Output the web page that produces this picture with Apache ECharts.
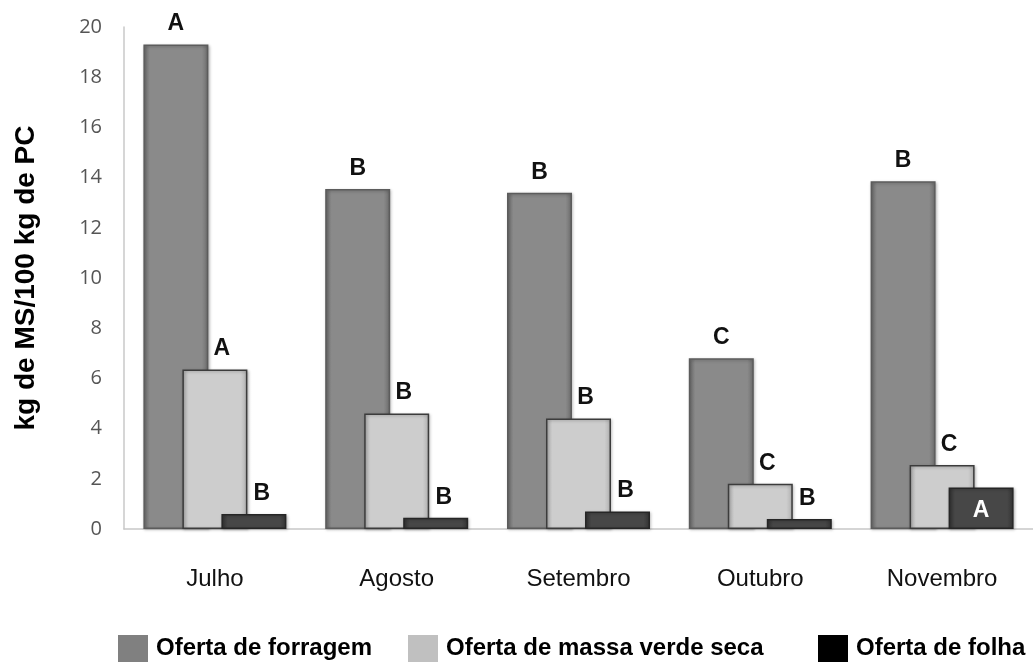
<!DOCTYPE html>
<html>
<head>
<meta charset="utf-8">
<script src="https://cdn.jsdelivr.net/npm/echarts@6/dist/echarts.min.js"></script>
<style>
  html, body { margin: 0; padding: 0; background: #ffffff; }
  #chart { width: 1033px; height: 662px; }
</style>
</head>
<body>
<div id="chart"></div>
<script>
// Months on the category axis
const months = ['Julho', 'Agosto', 'Setembro', 'Outubro', 'Novembro'];

// Offer values, kg de MS/100 kg de PC
const ofertaForragem = [19.3, 13.55, 13.4, 6.8, 13.85];
const ofertaMassaVerdeSeca = [6.35, 4.6, 4.4, 1.8, 2.55];
const ofertaFolha = [0.6, 0.45, 0.7, 0.4, 1.65];

// Letters of the mean comparison test, one per bar
const letrasForragem = ['A', 'B', 'B', 'C', 'B'];
const letrasMassa = ['A', 'B', 'B', 'C', 'C'];
const letrasFolha = ['B', 'B', 'B', 'B', 'A'];

// Y axis range
const yMin = 0, yMax = 20, yStep = 2;

const seriesNames = ['Oferta de forragem', 'Oferta de massa verde seca', 'Oferta de folha'];
const legendColors = ['#808080', '#c0c0c0', '#000000'];

const chart = echarts.init(document.getElementById('chart'), null, { renderer: 'canvas' });

// Horizontal shading that gives each bar a bevelled look
function bevel(edge, mid) {
  return new echarts.graphic.LinearGradient(0, 0, 1, 0, [
    { offset: 0, color: edge },
    { offset: 0.1, color: mid },
    { offset: 0.9, color: mid },
    { offset: 1, color: edge }
  ]);
}

const labelFont = { fontFamily: 'Arial, "Liberation Sans", sans-serif', fontWeight: 'bold', fontSize: 23, color: '#111' };

function barSeries(name, values, letters, style, labelOpts) {
  return {
    name: name,
    type: 'bar',
    data: values.map((v, i) => ({ value: v, letter: letters[i] })),
    barWidth: 65,
    barGap: '-40%',
    itemStyle: {
      color: bevel(style.edge, style.mid),
      borderColor: style.border,
      borderWidth: 1.5,
      shadowColor: 'rgba(0,0,0,0.25)',
      shadowBlur: 3,
      shadowOffsetX: 1,
      shadowOffsetY: 1
    },
    label: Object.assign({
      show: true,
      position: 'top',
      distance: 9,
      formatter: p => p.data.letter
    }, labelFont, labelOpts || {}),
    emphasis: { disabled: true }
  };
}

// One legend block per series so each item sits at its own place
const legendLefts = [113, 403, 813];
const legends = seriesNames.map((n, i) => ({
  left: legendLefts[i],
  top: 630,
  itemWidth: 30,
  itemHeight: 27,
  icon: 'rect',
  selectedMode: false,
  textStyle: { fontFamily: 'Arial, "Liberation Sans", sans-serif', fontWeight: 'bold', fontSize: 24, color: '#000', padding: [0, 0, 0, 3] },
  data: [{ name: n, itemStyle: { color: legendColors[i], borderWidth: 0 } }]
}));

const option = {
  backgroundColor: '#ffffff',
  animation: false,
  grid: { left: 124, right: -16, top: 27, bottom: 133, containLabel: false },
  legend: legends,
  xAxis: {
    type: 'category',
    data: months,
    axisLine: { lineStyle: { color: '#c8c8c8', width: 1.5 } },
    axisTick: { show: false },
    axisLabel: { margin: 38, fontFamily: 'Arial, "Liberation Sans", sans-serif', fontSize: 24, color: '#111' }
  },
  yAxis: {
    type: 'value',
    min: yMin,
    max: yMax,
    interval: yStep,
    name: 'kg de MS/100 kg de PC',
    nameLocation: 'middle',
    nameGap: 84,
    nameTextStyle: { fontFamily: 'Arial, "Liberation Sans", sans-serif', fontWeight: 'bold', fontSize: 28, color: '#000' },
    axisLine: { show: true, lineStyle: { color: '#c8c8c8', width: 1.5 } },
    axisTick: { show: false },
    splitLine: { show: false },
    axisLabel: { margin: 22, fontFamily: '"Open Sans", sans-serif', fontSize: 20, color: '#555' }
  },
  series: [
    barSeries(seriesNames[0], ofertaForragem, letrasForragem,
      { edge: '#6c6c6c', mid: '#8a8a8a', border: '#5c5c5c' }),
    barSeries(seriesNames[1], ofertaMassaVerdeSeca, letrasMassa,
      { edge: '#b0b0b0', mid: '#cdcdcd', border: '#3c3c3c' }, { offset: [7, 0] }),
    barSeries(seriesNames[2], ofertaFolha, letrasFolha,
      { edge: '#333333', mid: '#474747', border: '#262626' }, { offset: [8, 0] })
  ]
};

// The last folha letter sits inside its bar in white
option.series[2].data[4].label = { position: 'inside', offset: [0, 2], color: '#ffffff' };

chart.setOption(option);
</script>
</body>
</html>
